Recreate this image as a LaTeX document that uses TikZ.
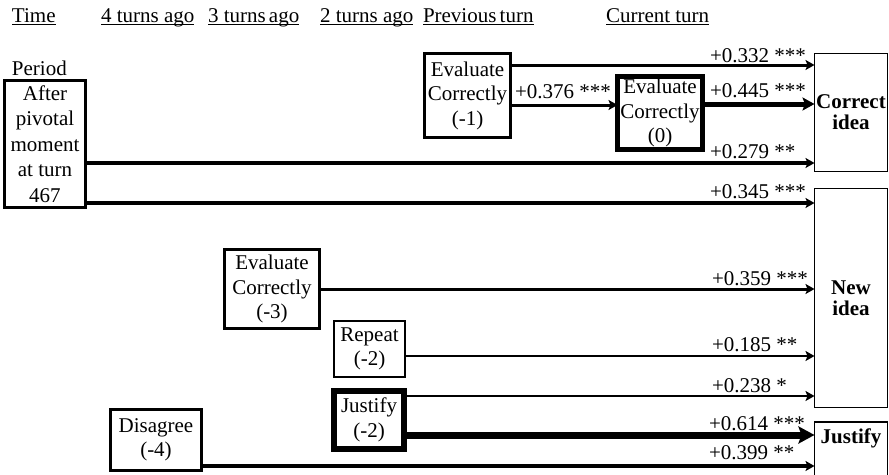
\documentclass[tikz,border=0pt]{standalone}
\usepackage{fontspec}
\setmainfont{Liberation Serif}
\usetikzlibrary{arrows.meta}
\begin{document}
\begin{tikzpicture}[x=1pt,y=-1pt,
  every node/.style={font=\fontsize{21}{24.5}\selectfont, inner sep=0pt, outer sep=0pt},
  box/.style={draw, align=center},
  target/.style={draw, line width=1.5pt, minimum width=73pt, align=center,
     font=\fontsize{21}{21}\selectfont\bfseries},
  hdr/.style={anchor=base west},
  lbl/.style={anchor=base west},
  ul/.style={line width=1pt},
  arr/.style={-{Stealth[length=9pt,width=10pt,inset=2pt]}},
  bigarr/.style={-{Stealth[length=12pt,width=13pt,inset=2.5pt]}},
  hugearr/.style={-{Stealth[length=16pt,width=17pt,inset=3pt]}}]
\useasboundingbox (0,0) rectangle (889,474);
\clip (0,0) rectangle (889,474);

% headers
\node[hdr] (hT) at (12,22) {Time};
\node[hdr] (h4) at (101,22) {4 turns ago};
\node[hdr] (h3) at (208,22) {3 turns\hspace{-2pt} ago};
\node[hdr] (h2) at (320,22) {2 turns ago};
\node[hdr] (hP) at (423,22) {Previous\hspace{-2pt} turn};
\node[hdr] (hC) at (606,22) {Current turn};
\foreach \h in {hT,h4,h3,h2,hP,hC}
  \draw[ul] ([yshift=-2.5pt]\h.base west) -- ([yshift=-2.5pt]\h.base east);

\node[hdr] (period) at (12,75) {Period};

% boxes
\node[box, line width=3.5pt, minimum width=81pt, minimum height=127pt,
      font=\fontsize{21}{25.5}\selectfont] (piv) at (45,144) {After\\pivotal\\moment\\at turn\\467};
\node[box, line width=3.5pt, minimum width=86pt, minimum height=84pt] (ec1) at (467.5,95.5) {Evaluate\\Correctly\\(-1)};
\node[box, line width=5pt, minimum width=85pt, minimum height=73pt] (ec0) at (660,113) {Evaluate\\Correctly\\(0)};
\node[box, line width=3.5pt, minimum width=95pt, minimum height=79pt] (ec3) at (272,289) {Evaluate\\Correctly\\(-3)};
\node[box, line width=2pt, minimum width=71pt, minimum height=56pt] (rep) at (369.5,349) {Repeat\\(-2)};
\node[box, line width=6pt, minimum width=70pt, minimum height=58pt] (jus) at (369,420) {Justify\\(-2)};
\node[box, line width=3.5pt, minimum width=91pt, minimum height=61pt] (dis) at (156,440) {Disagree\\(-4)};

\node[target, minimum height=118pt] (ci) at (851,112.5) {Correct\\idea};
\node[target, minimum height=219pt] (ni) at (851,298) {New\\idea};
\node[target, minimum height=80pt, anchor=north] (jt) at (851,422) {};
\node[font=\fontsize{21}{21}\selectfont\bfseries] (jtl) at (851,438) {Justify};

% connectors
\draw[arr, line width=3pt] (ec1.east |- 0,65) -- (ci.west |- 0,65);
\draw[arr, line width=3pt] (ec1.east |- 0,105) -- (ec0.west |- 0,105);
\draw[bigarr, line width=5pt] (ec0.east |- 0,104) -- (ci.west |- 0,104);
\draw[arr, line width=3.5pt] (piv.east |- 0,163) -- (ci.west |- 0,163);
\draw[arr, line width=3.5pt] (piv.east |- 0,203) -- (ni.west |- 0,203);
\draw[arr, line width=3pt] (ec3.east |- 0,289) -- (ni.west |- 0,289);
\draw[arr, line width=2pt] (rep.east |- 0,356) -- (ni.west |- 0,356);
\draw[arr, line width=2pt] (jus.east |- 0,396) -- (ni.west |- 0,396);
\draw[hugearr, line width=7pt] (jus.east |- 0,435) -- (jt.west |- 0,435);
\draw[arr, line width=4pt] (dis.east |- 0,466) -- (jt.west |- 0,466);

% labels
\node[lbl] (l1) at (710,62) {+0.332 ***};
\node[lbl] (l2) at (515,98) {+0.376 ***};
\node[lbl] (l3) at (710,97) {+0.445 ***};
\node[lbl] (l4) at (710,158) {+0.279 **};
\node[lbl] (l5) at (710,198) {+0.345 ***};
\node[lbl] (l6) at (712,285) {+0.359 ***};
\node[lbl] (l7) at (712,351) {+0.185 **};
\node[lbl] (l8) at (712,392) {+0.238 *};
\node[lbl] (l9) at (709,430) {+0.614 ***};
\node[lbl] (l10) at (709,459) {+0.399 **};
\end{tikzpicture}
\end{document}
